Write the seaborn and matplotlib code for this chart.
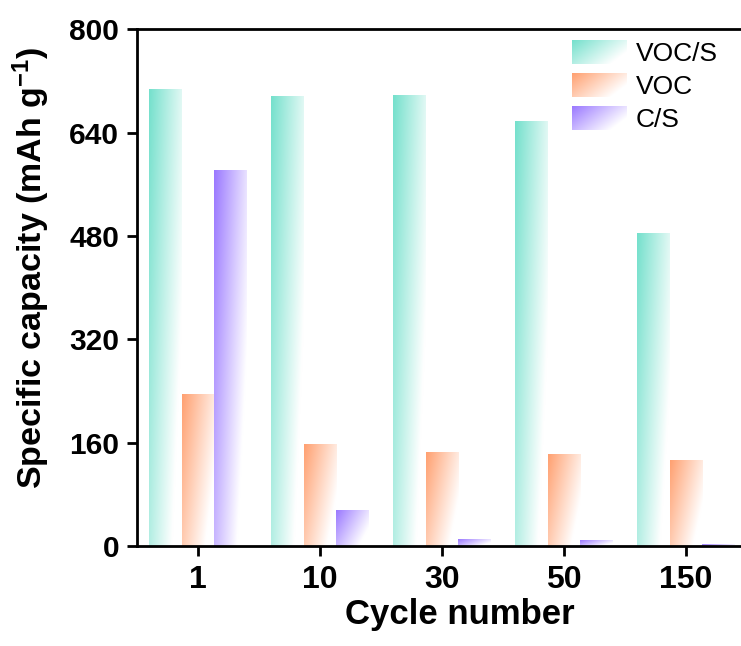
import numpy as np
import pandas as pd
import matplotlib
matplotlib.use("Agg")
import matplotlib.pyplot as plt
import seaborn as sns
from matplotlib.legend_handler import HandlerBase
from matplotlib.image import BboxImage
from matplotlib.transforms import Bbox, TransformedBbox
from matplotlib.patches import Patch
from matplotlib.colors import to_rgb

cycles = ["1", "10", "30", "50", "150"]
voc_s = [707, 697, 698, 657, 484]
voc = [235, 157, 145, 141, 133]
c_s = [581, 55, 10, 9, 3]
series = ["VOC/S", "VOC", "C/S"]
colors = ["#74E0CC", "#FFA070", "#9A78FF"]

df = pd.DataFrame({
    "Cycle": cycles * 3,
    "Capacity": voc_s + voc + c_s,
    "Series": np.repeat(series, len(cycles)),
})

sns.set_theme(style="ticks")
plt.rcParams["font.family"] = ["Liberation Sans", "DejaVu Sans"]
plt.rcParams["text.color"] = "black"
plt.rcParams["axes.labelcolor"] = "black"
plt.rcParams["mathtext.fontset"] = "custom"
plt.rcParams["mathtext.bf"] = "Liberation Sans:bold"
plt.rcParams["mathtext.rm"] = "Liberation Sans:bold"
plt.rcParams["mathtext.default"] = "bf"


def gradient(color, n=128):
    c = np.array(to_rgb(color))
    u = np.linspace(0, 1, n)[None, :]
    v = np.linspace(0, 1, n)[:, None]
    t = np.clip(0.78 * u + 0.45 * v, 0, 1)
    t = t[..., None]
    arr = c * (1 - t) + np.ones(3) * t
    return arr


fig = plt.figure(figsize=(7.41, 6.46), dpi=100)
ax = fig.add_axes([0.185, 0.155, 0.815, 0.7995])
sns.barplot(data=df, x="Cycle", y="Capacity", hue="Series", order=cycles,
            hue_order=series, palette=colors, saturation=1, width=0.8,
            legend=False, ax=ax)

for cont, col in zip(ax.containers, colors):
    img = gradient(col)
    for p in cont.patches:
        x, y = p.get_x(), p.get_y()
        w, h = p.get_width(), p.get_height()
        ax.imshow(img, extent=[x, x + w, y, y + h], origin="upper",
                  aspect="auto", interpolation="bilinear", zorder=2)
        p.set_visible(False)

ax.set_xlim(-0.5, 4.45)
ax.set_ylim(0, 800)
ax.set_yticks([0, 160, 320, 480, 640, 800])

for s in ["left", "bottom", "top"]:
    ax.spines[s].set_linewidth(2.0)
    ax.spines[s].set_color("black")
ax.spines["right"].set_visible(False)

ax.tick_params(axis="both", direction="out", length=7, width=2.0, colors="black")
ax.tick_params(axis="x", pad=7, labelsize=23)
ax.tick_params(axis="y", pad=6, labelsize=21.5)
for lab in ax.get_xticklabels() + ax.get_yticklabels():
    lab.set_fontweight("bold")

ax.set_xlabel("Cycle number", fontsize=25, fontweight="bold", color="black")
ax.set_ylabel(r"Specific capacity (mAh g$^{-1}$)", fontsize=24.5, fontweight="bold",
              color="black")
ax.xaxis.set_label_coords(0.534, -0.1)
ax.yaxis.set_label_coords(-0.141, 0.538)


class GradHandler(HandlerBase):
    def create_artists(self, legend, orig_handle, xdescent, ydescent,
                       width, height, fontsize, trans):
        bb = Bbox.from_bounds(-xdescent, -ydescent, width, height)
        tbb = TransformedBbox(bb, trans)
        im = BboxImage(tbb, interpolation="bilinear")
        im.set_data(gradient(orig_handle.get_facecolor()[:3]))
        return [im]


handles = [Patch(facecolor=c, label=s) for c, s in zip(colors, series)]
leg = ax.legend(handles=handles, loc="upper left",
                bbox_to_anchor=(572 / 741, 1 - 40 / 646), bbox_transform=fig.transFigure,
                frameon=False, fontsize=19, handlelength=2.08, handleheight=1.02,
                handletextpad=0.34, labelspacing=0.27, borderpad=0, borderaxespad=0,
                handler_map={Patch: GradHandler()})
for t in leg.get_texts():
    t.set_color("black")

fig.savefig("out.png", dpi=100)
